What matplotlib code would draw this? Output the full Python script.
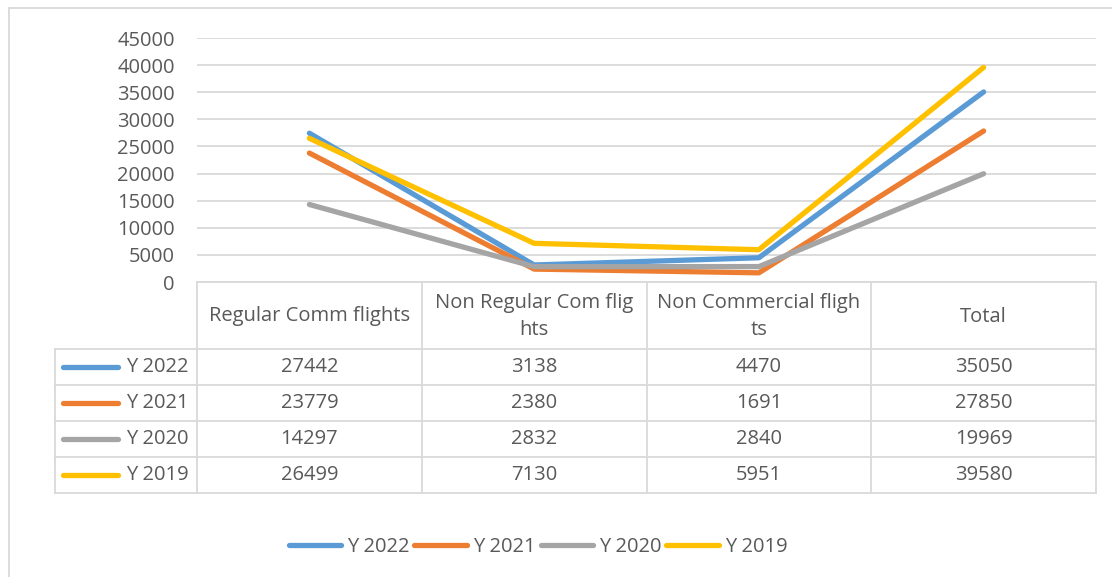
import numpy as np
import matplotlib.pyplot as plt
from matplotlib.lines import Line2D

categories = ['Regular Comm flights', 'Non Regular Com flig\nhts',
              'Non Commercial fligh\nts', 'Total']
series_names = ['Y 2022', 'Y 2021', 'Y 2020', 'Y 2019']
y2022 = [27442, 3138, 4470, 35050]
y2021 = [23779, 2380, 1691, 27850]
y2020 = [14297, 2832, 2840, 19969]
y2019 = [26499, 7130, 5951, 39580]
yticks = [0, 5000, 10000, 15000, 20000, 25000, 30000, 35000, 40000, 45000]

colors = ['#5B9BD5', '#ED7D31', '#A5A5A5', '#FFC000']
series = [y2022, y2021, y2020, y2019]

plt.rcParams['font.family'] = ['Open Sans', 'DejaVu Sans']
W, H = 1112, 577
txt = '#595959'
grid = '#d9d9d9'
fs = 14.5

fig = plt.figure(figsize=(W / 100, H / 100), dpi=100)


def fx(x):
    return x / W


def fy(y):
    return 1 - y / H


left, right, top, bottom = 197, 1096, 38, 282
ax = fig.add_axes([fx(left), fy(bottom), fx(right - left), fy(top) - fy(bottom)])

xs = np.arange(len(categories))
for name, vals, c in zip(series_names, series, colors):
    ax.plot(xs, vals, color=c, lw=3.8, solid_capstyle='round', label=name, zorder=3)

ax.set_xlim(-0.5, len(categories) - 0.5)
ax.set_ylim(0, 45000)
ax.set_yticks(yticks)
ax.set_yticklabels([str(t) for t in yticks], fontsize=fs, color=txt)
ax.tick_params(axis='y', length=0, pad=16)
ax.set_xticks([])
ax.grid(axis='y', color=grid, lw=1.3)
ax.set_axisbelow(True)
for s in ax.spines.values():
    s.set_visible(False)

# outer chart frame (cropped at right/bottom)
fig.add_artist(Line2D([fx(9), fx(9)], [fy(8), fy(577)], color=grid, lw=1.3))
fig.add_artist(Line2D([fx(9), fx(1112)], [fy(8), fy(8)], color=grid, lw=1.3))

# data table
col_edges = [left + i * (right - left) / 4 for i in range(5)]
row_edges = [282, 349, 385, 421, 457, 493]
tleft = 55

fig.add_artist(Line2D([fx(left), fx(right)], [fy(282), fy(282)], color=grid, lw=1.3))
for ry in row_edges[1:]:
    fig.add_artist(Line2D([fx(tleft), fx(right)], [fy(ry), fy(ry)], color=grid, lw=1.3))
fig.add_artist(Line2D([fx(tleft), fx(tleft)], [fy(349), fy(493)], color=grid, lw=1.3))
for cx in col_edges:
    fig.add_artist(Line2D([fx(cx), fx(cx)], [fy(282), fy(493)], color=grid, lw=1.3))

for i, cat in enumerate(categories):
    cx = (col_edges[i] + col_edges[i + 1]) / 2
    fig.text(fx(cx), fy((row_edges[0] + row_edges[1]) / 2 + 1), cat, ha='center',
             va='center', fontsize=fs, color=txt, linespacing=1.45)

for r, (name, vals, c) in enumerate(zip(series_names, series, colors)):
    cy = (row_edges[r + 1] + row_edges[r + 2]) / 2
    fig.add_artist(Line2D([fx(63), fx(118)], [fy(cy), fy(cy)], color=c, lw=3.8,
                          solid_capstyle='round'))
    fig.text(fx(126), fy(cy), name, ha='left', va='center', fontsize=fs, color=txt)
    for i, v in enumerate(vals):
        cx = (col_edges[i] + col_edges[i + 1]) / 2
        fig.text(fx(cx), fy(cy), str(v), ha='center', va='center', fontsize=fs, color=txt)

# legend
leg = fig.legend(loc='center', bbox_to_anchor=(fx(538), fy(547)), ncol=4, frameon=False,
                 fontsize=fs, handlelength=2.6, handletextpad=0.3, columnspacing=0.25,
                 labelcolor=txt)

fig.savefig('out.png', dpi=100)
